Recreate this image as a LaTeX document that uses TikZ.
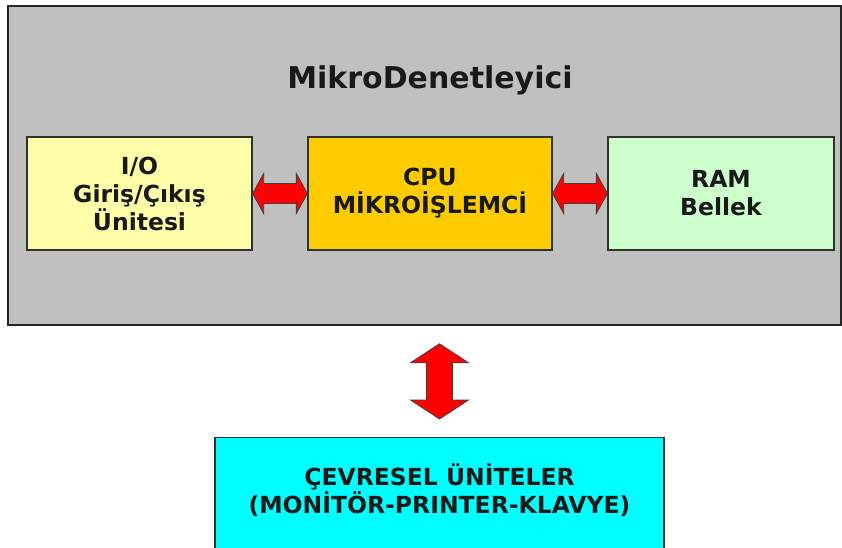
\documentclass[tikz,border=0pt]{standalone}
\usepackage{fontspec}
\setmainfont{DejaVu Sans}
\usetikzlibrary{calc}
\definecolor{mcgray}{RGB}{192,192,192}
\definecolor{ioyellow}{RGB}{255,255,170}
\definecolor{cpuorange}{RGB}{255,204,0}
\definecolor{ramgreen}{RGB}{204,255,204}
\definecolor{percyan}{RGB}{0,255,255}
\definecolor{arrowred}{RGB}{255,0,0}
\definecolor{edgedark}{RGB}{50,50,45}
\newcommand{\hdblarrow}[2]{%
  \filldraw[blockarrow] (#1) -- ($(#1)+(11,-20)$) -- ($(#1)+(11,-10)$) -- ($(#2)+(-11,-10)$) -- ($(#2)+(-11,-20)$) -- (#2) -- ($(#2)+(-11,20)$) -- ($(#2)+(-11,10)$) -- ($(#1)+(11,10)$) -- ($(#1)+(11,20)$) -- cycle;}
\begin{document}
\begin{tikzpicture}[x=1pt,y=-1pt,
  unitbox/.style={draw=edgedark,line width=1.3pt,inner sep=0pt,align=center,
    font=\bfseries\fontsize{23.5}{28}\selectfont,text=black!90},
  blockarrow/.style={fill=arrowred,draw=black!75,line width=0.8pt,line join=miter},
  lbl/.style={align=center,font=\bfseries\fontsize{23.5}{28.5}\selectfont,text=black!90}]
\useasboundingbox (0,0) rectangle (842,547);
\clip (0,0) rectangle (842,547);
\fill[white] (0,0) rectangle (842,547);
\node[draw=black!85,line width=1.5pt,fill=mcgray,minimum width=833pt,minimum height=319pt,inner sep=0pt] (mc) at (424.5,165.5) {};
\node[anchor=base,font=\bfseries\fontsize{30}{36}\selectfont,text=black!90] (title) at (430,88) {MikroDenetleyici};
\node[unitbox,fill=ioyellow,minimum width=225pt,minimum height=113pt] (io) at (139.5,193.5) {I/O\\Giriş/Çıkış\\Ünitesi};
\node[unitbox,fill=cpuorange,minimum width=244pt,minimum height=113pt] (cpu) at (430,193.5) {CPU\\MİKROİŞLEMCİ};
\node[unitbox,fill=ramgreen,minimum width=226pt,minimum height=113pt] (ram) at (721,193.5) {RAM\\Bellek};
\node[draw=edgedark,line width=1.3pt,fill=percyan,minimum width=449pt,minimum height=130pt,inner sep=0pt,anchor=north] (periph) at (439.5,437) {};
\node[lbl] (periphtext) at ($(periph.north)+(0,53)$) {ÇEVRESEL ÜNİTELER\\(MONİTÖR-PRINTER-KLAVYE)};
\hdblarrow{io.east}{cpu.west}
\hdblarrow{cpu.east}{ram.west}
\coordinate (va) at ($(periph.north |- mc.south)+(0,18)$);
\coordinate (vb) at ($(periph.north)+(0,-18)$);
\filldraw[blockarrow] (va) -- ($(va)+(-29,19)$) -- ($(va)+(-13,19)$) -- ($(vb)+(-13,-19)$) -- ($(vb)+(-29,-19)$) -- (vb) -- ($(vb)+(29,-19)$) -- ($(vb)+(13,-19)$) -- ($(va)+(13,19)$) -- ($(va)+(29,19)$) -- cycle;
\end{tikzpicture}
\end{document}
